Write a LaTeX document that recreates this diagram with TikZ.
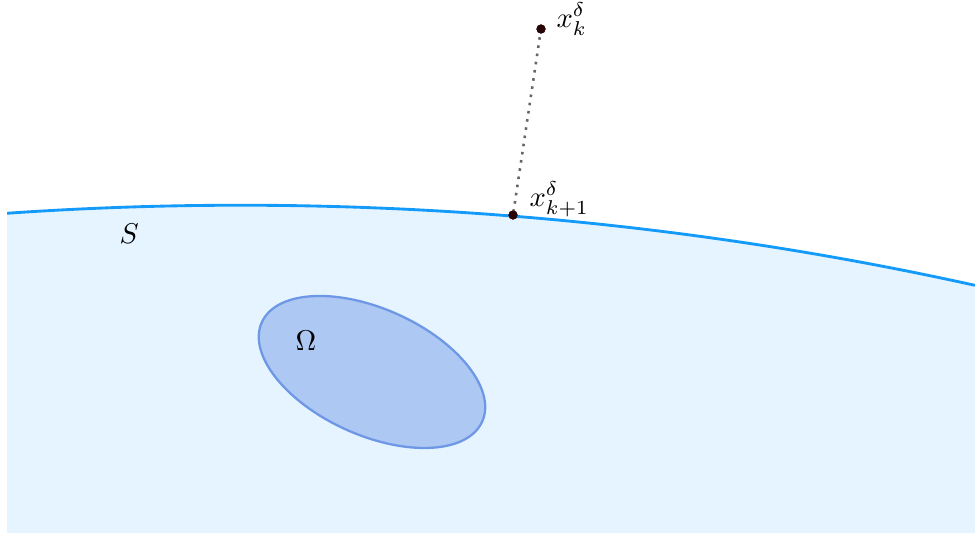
\documentclass[tikz,border=0pt]{standalone}
\usetikzlibrary{calc}
\definecolor{regionfill}{RGB}{230,244,255}
\definecolor{curveblue}{RGB}{20,155,250}
\definecolor{omegafill}{RGB}{173,200,242}
\definecolor{omegadraw}{RGB}{110,152,230}
\definecolor{dotcol}{RGB}{40,5,5}
\begin{document}
\begin{tikzpicture}[x=0.35pt,y=-0.35pt,
  ptdot/.style={circle,fill=dotcol,inner sep=0pt,minimum size=3.2pt},
  lbl/.style={inner sep=0pt,anchor=base west}]
\useasboundingbox (0,0) rectangle (975,539);
\coordinate (c) at (241,3609.6);
\coordinate (A) at ($(c)+(93.94:1191.6pt)$);
% region below S
\fill[regionfill] (A) arc[start angle=93.94,end angle=77.55,radius=1191.6pt] -- (975,533) -- (7,533) -- cycle;
\draw[curveblue,line width=1pt] (A) arc[start angle=93.94,end angle=77.55,radius=1191.6pt];
% Omega
\coordinate (oc) at (372,372);
\draw[omegadraw,fill=omegafill,line width=0.8pt,rotate around={-24.25:(oc)}] (oc) ellipse[x radius=42.3pt,y radius=22.1pt];
% points
\node[ptdot] (xk) at (541,29) {};
\node[ptdot] (xk1) at (513,215) {};
\draw[black!60,dotted,line width=0.9pt] (xk.center) -- (xk1.center);
\node[ptdot] at (xk) {};
\node[ptdot] at (xk1) {};
% labels
\node[lbl] (lxk) at (556,27) {$x_k^\delta$};
\node[lbl] (lxk1) at (529,206) {$x_{k+1}^\delta$};
\node[lbl] (lS) at (119,243) {$S$};
\node[lbl] (lO) at (295,350) {$\Omega$};
\end{tikzpicture}
\end{document}
